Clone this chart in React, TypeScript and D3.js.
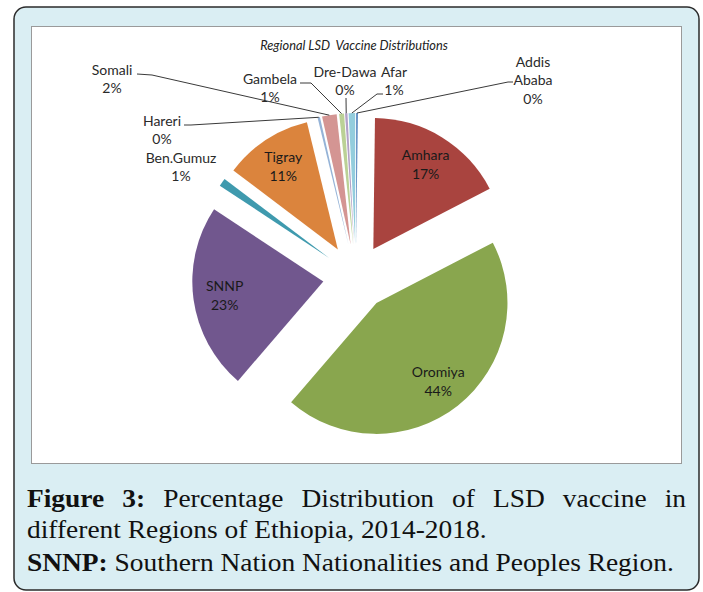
import React, { useEffect, useRef } from 'react';
import * as d3 from 'd3';

// ---- data ----
const regions = ['Addis Ababa', 'Amhara', 'Oromiya', 'SNNP', 'Ben.Gumuz', 'Tigray', 'Hareri', 'Somali', 'Gambela', 'Dre-Dawa', 'Afar'];
const shares = [0.2, 17.2, 43.9, 23.0, 1.0, 10.9, 0.3, 1.8, 0.6, 0.3, 0.8];
const sliceColors = ['#4A7EBB', '#A9443F', '#89A64E', '#71578E', '#3F9AAE', '#DB843D', '#95B3D7', '#D49593', '#BBD196', '#B3A2C7', '#93CDDD'];
const insideLabels = ['Amhara', 'Oromiya', 'SNNP', 'Tigray'];
const chartTitle = 'Regional LSD\u00a0 Vaccine Distributions';
const captionLine1 = [
  { w: 'Figure', b: true }, { w: '3:', b: true }, { w: 'Percentage', b: false }, { w: 'Distribution', b: false },
  { w: 'of', b: false }, { w: 'LSD', b: false }, { w: 'vaccine', b: false }, { w: 'in', b: false },
];
const captionLine2 = 'different Regions of Ethiopia, 2014-2018.';
const captionLine3Bold = 'SNNP:';
const captionLine3 = ' Southern Nation Nationalities and Peoples Region.';

// ---- layout (positions of manually placed outside labels) ----
const outsideLayout: Record<string, { x: number; y: number; leader: [number, number][] | null }> = {
  'Somali': { x: 112, y: 70, leader: [[137, 74], [152, 75]] },
  'Hareri': { x: 162, y: 121, leader: [[184, 125], [191, 125]] },
  'Ben.Gumuz': { x: 181, y: 158, leader: null },
  'Gambela': { x: 270, y: 79, leader: [[300, 83], [311, 83]] },
  'Dre-Dawa': { x: 345, y: 72, leader: [[346, 98]] },
  'Afar': { x: 394, y: 72, leader: [[383, 94], [377, 94]] },
  'Addis Ababa': { x: 533, y: 62, leader: [[513, 82], [508, 82]] },
};

const W = 703, H = 592;
const CX = 356, CY = 277, R = 131, EXPLODE = 33;
const LABEL_FONT = 'Lato, "Open Sans", sans-serif';
const SERIF = '"Liberation Serif", "Times New Roman", serif';

export default function App() {
  const capRef = useRef<SVGGElement>(null);

  const pie = d3.pie<number>().sort(null).value(d => d).startAngle(0).endAngle(2 * Math.PI);
  const arcs = pie(shares);
  const arc = d3.arc<d3.PieArcDatum<number>>().innerRadius(0).outerRadius(R);
  const pct = (v: number) => `${Math.round(v)}%`;

  useEffect(() => {
    const g = d3.select(capRef.current);
    g.selectAll('*').remove();
    const size = 24.5;
    const mk = (parent: any) => parent.append('text')
      .style('font-family', SERIF).attr('font-size', size).attr('fill', '#111');
    // line 3 -> stretch factor
    const t3 = mk(g);
    t3.append('tspan').attr('font-weight', 'bold').text(captionLine3Bold);
    t3.append('tspan').text(captionLine3);
    const w3 = (t3.node() as SVGTextElement).getComputedTextLength();
    const s = 647 / w3;
    t3.attr('transform', `translate(27,571) scale(${s},1)`);
    // line 2
    const t2 = mk(g).text(captionLine2);
    t2.attr('transform', `translate(27,538) scale(${s},1)`);
    // line 1 justified
    const nodes = captionLine1.map(wd => {
      const t = mk(g).attr('font-weight', wd.b ? 'bold' : 'normal').text(wd.w);
      return { t, w: (t.node() as SVGTextElement).getComputedTextLength() * s };
    });
    const total = nodes.reduce((a, n) => a + n.w, 0);
    const gap = (686 - 27 - total) / (nodes.length - 1);
    let x = 27;
    nodes.forEach(n => {
      n.t.attr('transform', `translate(${x},507) scale(${s},1)`);
      x += n.w + gap;
    });
  }, []);

  return (
    <svg width={W} height={H} style={{ position: 'absolute', left: 0, top: 0 }}>
      <rect x={14} y={7} width={685} height={583} rx={12} ry={12} fill="#DAEEF3" stroke="#2b2b2b" strokeWidth={1.5} />
      <rect x={31.5} y={26.5} width={650} height={437} fill="#ffffff" stroke="#9a9a9a" strokeWidth={1} />
      <text x={354} y={50} textAnchor="middle" fontFamily={LABEL_FONT} fontStyle="italic" fontSize={12.8} fill="#222">{chartTitle}</text>

      {arcs.map((a, i) => {
        const mid = (a.startAngle + a.endAngle) / 2;
        const dx = Math.sin(mid) * EXPLODE, dy = -Math.cos(mid) * EXPLODE;
        return (
          <g key={regions[i]} transform={`translate(${CX + dx},${CY + dy})`}>
            <path d={arc(a) || ''} fill={sliceColors[i]} />
          </g>
        );
      })}

      {arcs.map((a, i) => {
        const name = regions[i];
        const mid = (a.startAngle + a.endAngle) / 2;
        const ax = CX + Math.sin(mid) * EXPLODE, ay = CY - Math.cos(mid) * EXPLODE;
        if (insideLabels.includes(name)) {
          const lx = ax + Math.sin(mid) * R * 0.76, ly = ay - Math.cos(mid) * R * 0.76;
          return (
            <text key={name} textAnchor="middle" fontFamily={LABEL_FONT} fontSize={14} fill="#1a1a1a">
              <tspan x={lx} y={ly - 4}>{name}</tspan>
              <tspan x={lx} y={ly + 15}>{pct(shares[i])}</tspan>
            </text>
          );
        }
        const lay = outsideLayout[name];
        const lines = name === 'Addis Ababa' ? ['Addis', 'Ababa'] : [name];
        const all = [...lines, pct(shares[i])];
        const ox = ax + Math.sin(mid) * R, oy = ay - Math.cos(mid) * R;
        const pts = lay.leader ? [...lay.leader, [ox, oy] as [number, number]] : null;
        return (
          <g key={name}>
            {pts && <polyline points={pts.map(p => p.join(',')).join(' ')} fill="none" stroke="#3a3a3a" strokeWidth={1} />}
            <text textAnchor="middle" fontFamily={LABEL_FONT} fontSize={14} fill="#2a2a2a">
              {all.map((t, k) => (
                <tspan key={k} x={lay.x} y={lay.y + 5 + k * 18.3}>{t}</tspan>
              ))}
            </text>
          </g>
        );
      })}

      <g ref={capRef} />
    </svg>
  );
}
